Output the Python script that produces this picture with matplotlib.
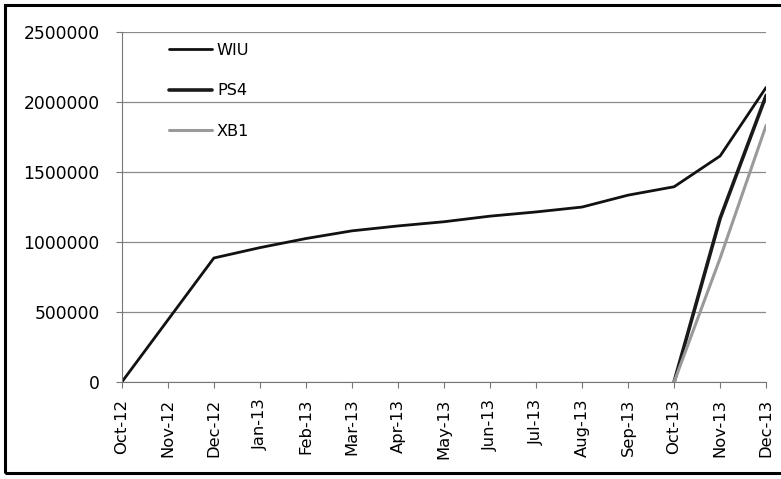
import numpy as np
import matplotlib
matplotlib.use("Agg")
import matplotlib.pyplot as plt
from matplotlib.patches import Rectangle

plt.rcParams['font.family'] = ['DejaVu Sans']

months = ["Oct-12", "Nov-12", "Dec-12", "Jan-13", "Feb-13", "Mar-13", "Apr-13",
          "May-13", "Jun-13", "Jul-13", "Aug-13", "Sep-13", "Oct-13", "Nov-13", "Dec-13"]
wiu = [0, 443000, 886000, 960000, 1025000, 1080000, 1115000, 1145000,
       1185000, 1215000, 1250000, 1335000, 1395000, 1615000, 2105000]
ps4 = [np.nan] * 12 + [0, 1170000, 2048000]
xb1 = [np.nan] * 12 + [0, 885000, 1834000]
yticks = [0, 500000, 1000000, 1500000, 2000000, 2500000]

fig = plt.figure(figsize=(7.81, 4.79), dpi=100)
ax = fig.add_axes([0.156, 0.2025, 0.825, 0.7305])

x = np.arange(len(months))
ax.plot(x, wiu, color="#111111", lw=2.0, label="WIU", solid_capstyle="round")
ax.plot(x, ps4, color="#1a1a1a", lw=2.6, label="PS4", solid_capstyle="round")
ax.plot(x, xb1, color="#9a9a9a", lw=2.2, label="XB1", solid_capstyle="round")

ax.set_xlim(0, len(months) - 1)
ax.set_ylim(0, 2500000)
ax.set_yticks(yticks)
ax.set_yticklabels([str(v) for v in yticks], fontsize=12.3)
ax.set_xticks(x)
ax.set_xticklabels(months, rotation=90, fontsize=11.8)
ax.grid(axis="y", color="#8a8a8a", lw=0.9)
ax.set_axisbelow(True)

for side in ["top", "right"]:
    ax.spines[side].set_visible(False)
ax.spines["left"].set_color("#777777")
ax.spines["bottom"].set_color("#777777")
ax.tick_params(axis="both", color="#777777", length=4, width=0.8)
ax.tick_params(axis="y", pad=12)
ax.tick_params(axis="x", pad=8)

leg = ax.legend(loc="upper left", bbox_to_anchor=(0.05, 1.01), frameon=False,
                fontsize=11.6, labelspacing=1.57, handlelength=2.7, handletextpad=0.3)

# scanned frame, right edge runs off the picture
fig.patches.append(Rectangle((0.006, 0.012), 1.05, 0.978, transform=fig.transFigure,
                             fill=False, edgecolor="black", lw=2.2))

fig.savefig("out.png", dpi=100)
